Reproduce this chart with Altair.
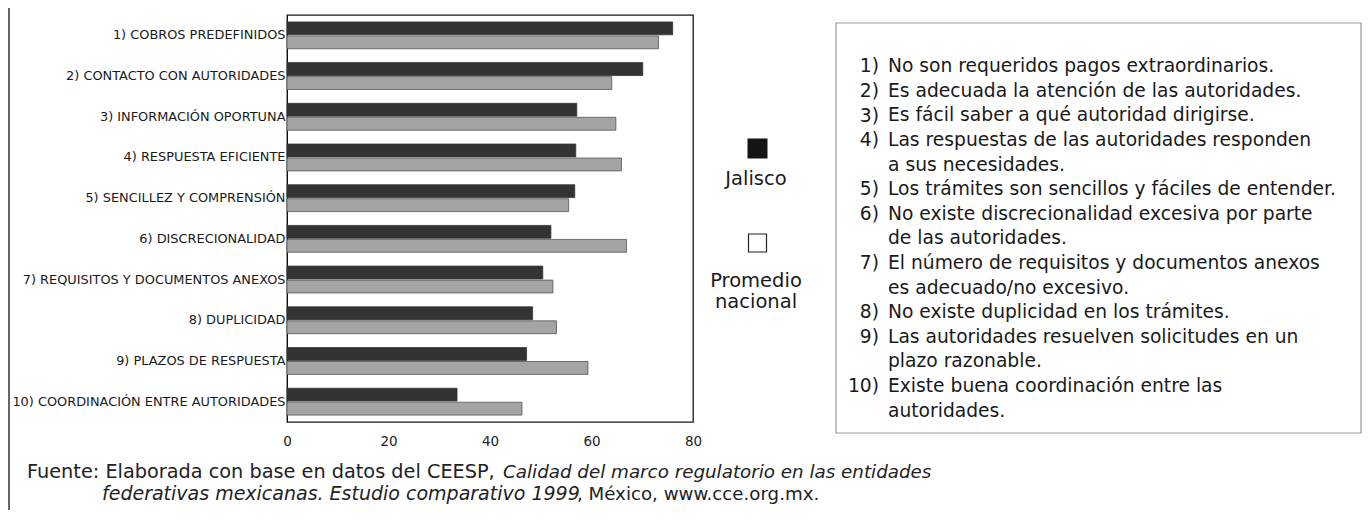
import altair as alt
import pandas as pd

categorias = [
    "1) COBROS PREDEFINIDOS",
    "2) CONTACTO CON AUTORIDADES",
    "3) INFORMACIÓN OPORTUNA",
    "4) RESPUESTA EFICIENTE",
    "5) SENCILLEZ Y COMPRENSIÓN",
    "6) DISCRECIONALIDAD",
    "7) REQUISITOS Y DOCUMENTOS ANEXOS",
    "8) DUPLICIDAD",
    "9) PLAZOS DE RESPUESTA",
    "10) COORDINACIÓN ENTRE AUTORIDADES",
]
jalisco = [76.0, 70.1, 57.1, 56.9, 56.7, 52.0, 50.4, 48.4, 47.2, 33.5]
nacional = [73.2, 64.0, 64.8, 65.9, 55.5, 66.9, 52.4, 53.1, 59.3, 46.3]
series = ["Jalisco", "Promedio nacional"]
x_ticks = [0, 20, 40, 60, 80]

nums = ["1)", "2)", "3)", "4)", "", "5)", "6)", "", "7)", "", "8)", "9)", "", "10)", ""]
lineas = [
    "No son requeridos pagos extraordinarios.",
    "Es adecuada la atención de las autoridades.",
    "Es fácil saber a qué autoridad dirigirse.",
    "Las respuestas de las autoridades responden",
    "a sus necesidades.",
    "Los trámites son sencillos y fáciles de entender.",
    "No existe discrecionalidad excesiva por parte",
    "de las autoridades.",
    "El número de requisitos y documentos anexos",
    "es adecuado/no excesivo.",
    "No existe duplicidad en los trámites.",
    "Las autoridades resuelven solicitudes en un",
    "plazo razonable.",
    "Existe buena coordinación entre las",
    "autoridades.",
]
fuente_a = "Fuente: Elaborada con base en datos del CEESP,"
fuente_b = "Calidad del marco regulatorio en las entidades"
fuente_c = "federativas mexicanas. Estudio comparativo 1999"
fuente_d = ", México, www.cce.org.mx."

FONT = "DejaVu Sans"

df = pd.DataFrame({
    "categoria": categorias * 2,
    "serie": [series[0]] * len(categorias) + [series[1]] * len(categorias),
    "valor": jalisco + nacional,
})

bars = alt.Chart(df).mark_bar(strokeWidth=0.8).encode(
    x=alt.X("valor:Q",
            scale=alt.Scale(domain=[0, 80], nice=False),
            axis=alt.Axis(values=x_ticks, grid=False, ticks=False, domain=False,
                          labelPadding=12, title=None, labelFontSize=13.5,
                          labelFlush=False,
                          labelColor="#222", labelFont=FONT)),
    y=alt.Y("categoria:N", sort=categorias,
            scale=alt.Scale(paddingInner=0.34, paddingOuter=0.17),
            axis=alt.Axis(title=None, ticks=False, domain=True, domainColor="#111",
                          labelFontSize=12.9, labelPadding=2, labelLimit=400,
                          labelColor="#1a1a1a", labelFont=FONT)),
    yOffset=alt.YOffset("serie:N", sort=series, scale=alt.Scale(paddingInner=0.08)),
    color=alt.Color("serie:N", scale=alt.Scale(domain=series, range=["#333333", "#a4a4a4"]), legend=None),
    stroke=alt.Stroke("serie:N", scale=alt.Scale(domain=series, range=["#333333", "#555555"]), legend=None),
)

one = pd.DataFrame({"k": [0]})


def txt(s, x, y, size, align="left", style="normal", lh=None, color="#1a1a1a"):
    kw = dict(align=align, baseline="alphabetic", font=FONT, fontSize=size,
              fontStyle=style, color=color)
    if lh is not None:
        kw["lineBreak"] = "\n"
        kw["lineHeight"] = lh
    return alt.Chart(pd.DataFrame({"t": [s]})).mark_text(**kw).encode(
        text="t:N", x=alt.value(x), y=alt.value(y))


box = alt.Chart(one).mark_rect(fill=None, stroke="#9a9a9a", strokeWidth=1.2).encode(
    x=alt.value(549), x2=alt.value(1074), y=alt.value(8), y2=alt.value(418))

LINE0, LH = 57.3, 24.6
box_nums = [txt(n, 592, LINE0 + LH * i, 18.7, align="right")
            for i, n in enumerate(nums) if n]
box_text = txt("\n".join(lineas), 601, LINE0, 18.7, align="left", lh=LH)

sq_j = alt.Chart(one).mark_square(size=324, fill="#151515", stroke="#151515", opacity=1).encode(
    x=alt.value(470.5), y=alt.value(133.5))
sq_n = alt.Chart(one).mark_square(size=324, fill="white", stroke="#222", strokeWidth=1.2, opacity=1).encode(
    x=alt.value(470.5), y=alt.value(228))
leg_j = txt(series[0], 469, 170, 19.5, align="center")
leg_n = txt("Promedio\nnacional", 469, 272, 19.5, align="center", lh=21)

f_a = txt(fuente_a, -260, 463, 19.3, color="#222")
f_b = txt(fuente_b, 216, 463, 18.3, style="italic", color="#222")
f_c = txt(fuente_c, -185, 485, 19, style="italic", color="#222")
f_d = txt(fuente_d, 290, 485, 18.2, color="#222")

border = alt.Chart(one).mark_rule(color="#666", strokeWidth=2).encode(
    x=alt.value(-278), y=alt.value(-15), y2=alt.value(505))

chart = alt.layer(
    bars, box, *box_nums, box_text, sq_j, sq_n, leg_j, leg_n, f_a, f_b, f_c, f_d, border
).properties(
    width=406, height=407,
    autosize=alt.AutoSizeParams(type="none"),
    padding={"left": 279, "top": 7, "right": 669, "bottom": 88},
).configure_view(stroke="#1a1a1a", strokeWidth=1.3)

chart.save("out.html", embed_options={"renderer": "svg", "actions": False})
